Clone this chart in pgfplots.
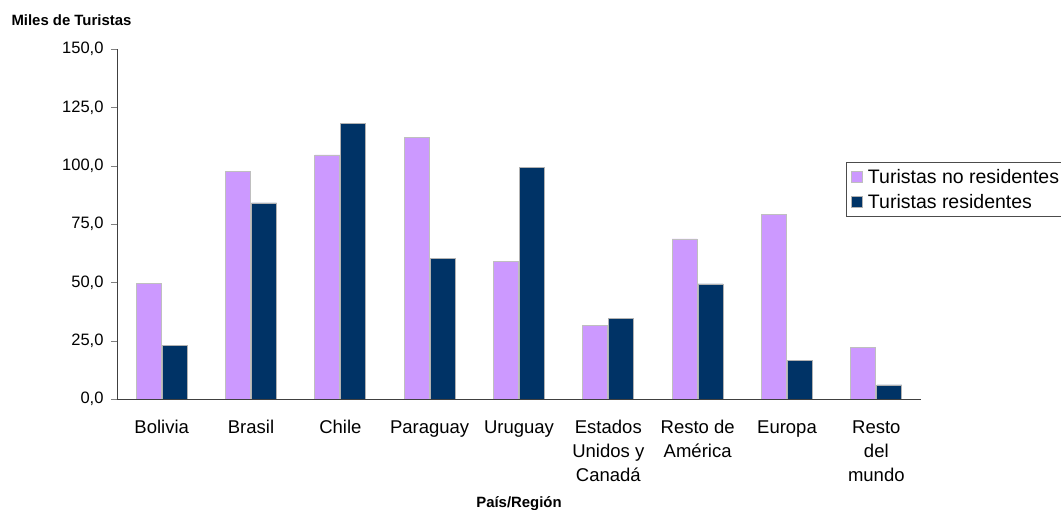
\documentclass[border=0pt]{standalone}
\usepackage{fontspec}
\setmainfont{Liberation Sans}
\usepackage{pgfplots}
\pgfplotsset{compat=1.18}
\definecolor{lilac}{HTML}{CC99FF}
\definecolor{navy}{HTML}{003366}
\begin{document}
\begin{tikzpicture}
\path[use as bounding box] (0,0) rectangle (1061pt,510pt);
\begin{axis}[
  at={(117pt,111pt)}, anchor=south west,
  scale only axis, width=804pt, height=350pt,
  ybar=1pt, bar width=25pt,
  xmin=-0.5, xmax=8.5, ymin=0, ymax=150,
  axis x line=bottom, axis y line=left,
  axis line style={-, black!75},
  tick align=outside,
  ytick={0,25,...,150},
  major tick length=6pt,
  yticklabel style={font=\fontsize{16.5}{19}\selectfont, xshift=-4pt, /pgf/number format/.cd, fixed, fixed zerofill, precision=1, use comma, assume math mode=true},
  xtick={0,...,8},
  xticklabels={Bolivia,Brasil,Chile,Paraguay,Uruguay,{Estados\\Unidos y\\Canadá},{Resto de\\América},Europa,{Resto\\del\\mundo}},
  x tick style={draw=none},
  minor xtick={-0.5,0.5,...,8.5},
  minor x tick style={black!75},
  minor tick length=6pt,
  xticklabel style={font=\fontsize{18.5}{24}\selectfont, align=center, anchor=north, yshift=-12pt},
  xlabel={\bfseries País/Región},
  xlabel style={font=\fontsize{14.9}{17}\selectfont, at={(axis description cs:0.5,0)}, anchor=center, yshift=-105pt},
  ylabel={\bfseries Miles de Turistas},
  ylabel style={font=\fontsize{14.9}{17}\selectfont, rotate=-90, at={(axis description cs:0,1)}, anchor=west, xshift=-109pt, yshift=29pt},
  legend style={draw=black!70, fill=white,
    at={(axis description cs:0.9067,0.677)}, anchor=north west,
    font=\fontsize{19.5}{22}\selectfont, inner xsep=5pt, inner ysep=5pt,
    row sep=5pt, cells={anchor=west},
    /tikz/every odd column/.append style={column sep=3pt}},
  legend image code/.code={\fill[#1] (0pt,-5.5pt) rectangle (11pt,5.5pt);},
]
\addplot[fill=lilac, draw=black!25, line width=0.8pt] coordinates {
(0,49.7) (1,97.7) (2,104.6) (3,111.9) (4,59.1) (5,31.7) (6,68.6) (7,78.9) (8,21.9)};
\addplot[fill=navy, draw=black!30, line width=0.8pt] coordinates {
(0,23.1) (1,84.0) (2,117.9) (3,60.4) (4,99.4) (5,34.7) (6,49.3) (7,16.7) (8,6.0)};
\legend{Turistas no residentes, Turistas residentes}
\end{axis}
\end{tikzpicture}
\end{document}
